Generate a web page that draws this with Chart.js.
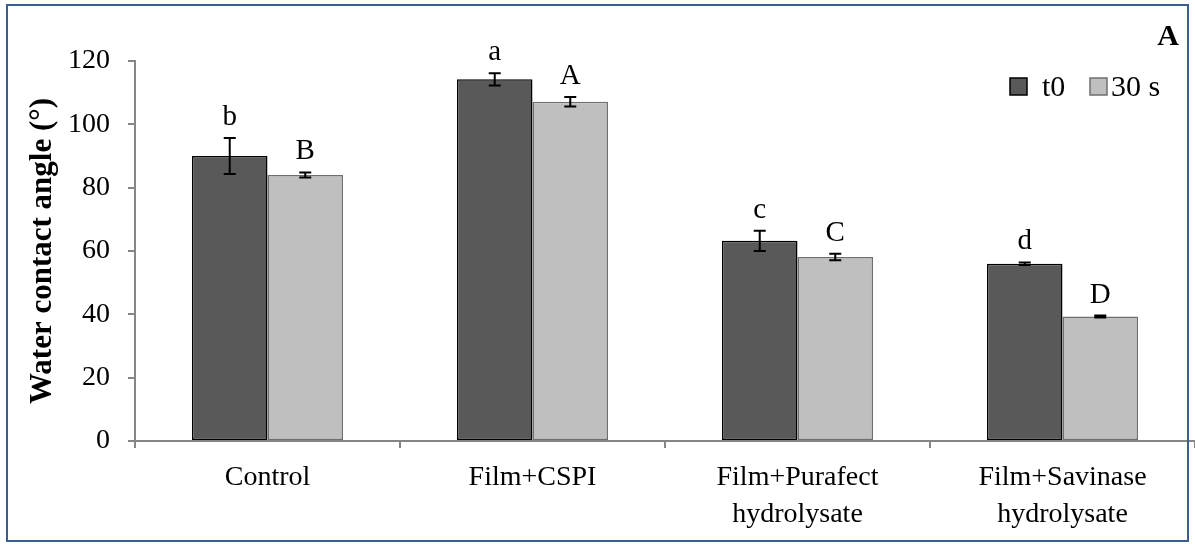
<!DOCTYPE html>
<html><head><meta charset="utf-8">
<script src="https://cdn.jsdelivr.net/npm/chart.js@4.4.0/dist/chart.umd.min.js"></script>
<style>
html,body{margin:0;padding:0;background:#fff;}
#wrap{position:relative;width:1195px;height:547px;overflow:hidden;}
canvas{position:absolute;left:0;top:0;}
#frame{position:absolute;left:6px;top:4px;width:1183px;height:538px;border:2px solid #3b5e8c;box-sizing:border-box;pointer-events:none;}
</style></head><body>
<div id="wrap"><canvas id="c" width="1195" height="547"></canvas><div id="frame"></div></div>
<script>
const categories = ['Control', 'Film+CSPI', ['Film+Purafect', 'hydrolysate'], ['Film+Savinase', 'hydrolysate']];
const seriesNames = ['t0', '30 s'];
const t0Values = [90.0, 114.2, 63.2, 56.0];
const t0Errors = [5.7, 1.9, 3.2, 0.4];
const s30Values = [84.0, 107.1, 58.1, 39.3];
const s30Errors = [0.8, 1.5, 1.0, 0.3];
const t0Letters = ['b', 'a', 'c', 'd'];
const s30Letters = ['B', 'A', 'C', 'D'];
const yMin = 0, yMax = 120, yStep = 20;
const panelLabel = 'A';
const yTitle = 'Water contact angle (°)';

const SERIF = "'Liberation Serif', 'Times New Roman', serif";
const darkFill = '#595959', lightFill = '#bfbfbf';

const errorBarPlugin = {
  id: 'errorBars',
  afterDatasetsDraw(chart) {
    const ctx = chart.ctx;
    const yS = chart.scales.y;
    chart.data.datasets.forEach((ds, di) => {
      const meta = chart.getDatasetMeta(di);
      meta.data.forEach((bar, i) => {
        const v = ds.data[i], e = ds.errors[i];
        const yt = yS.getPixelForValue(v + e), yb = yS.getPixelForValue(v - e);
        ctx.save();
        ctx.strokeStyle = '#000';
        ctx.lineWidth = 2;
        ctx.beginPath();
        ctx.moveTo(bar.x, yt); ctx.lineTo(bar.x, yb);
        ctx.moveTo(bar.x - 6, yt); ctx.lineTo(bar.x + 6, yt);
        ctx.moveTo(bar.x - 6, yb); ctx.lineTo(bar.x + 6, yb);
        ctx.stroke();
        ctx.fillStyle = '#000';
        ctx.font = '29px ' + SERIF;
        ctx.textAlign = 'center';
        ctx.textBaseline = 'alphabetic';
        ctx.fillText(ds.letters[i], bar.x, yt - 13);
        ctx.restore();
      });
    });
  }
};

const legendPlugin = {
  id: 'customLegend',
  afterDraw(chart) {
    const ctx = chart.ctx;
    ctx.save();
    const ds = chart.data.datasets;
    const boxes = [1010, 1090];
    const texts = [1042, 1111];
    ds.forEach((d, i) => {
      ctx.fillStyle = d.backgroundColor;
      ctx.fillRect(boxes[i], 78, 17, 17);
      ctx.strokeStyle = d.borderColor;
      ctx.lineWidth = 1.5;
      ctx.strokeRect(boxes[i], 78, 17, 17);
      ctx.fillStyle = '#000';
      ctx.font = '30px ' + SERIF;
      ctx.textBaseline = 'alphabetic';
      ctx.textAlign = 'left';
      ctx.fillText(d.label, texts[i], 96);
    });
    ctx.font = 'bold 30px ' + SERIF;
    ctx.textAlign = 'right';
    ctx.fillText(panelLabel, 1179, 45);
    ctx.restore();
  }
};

new Chart(document.getElementById('c'), {
  type: 'bar',
  data: {
    labels: categories,
    datasets: [
      { label: seriesNames[0], data: t0Values, errors: t0Errors, letters: t0Letters,
        backgroundColor: darkFill, borderColor: '#000', borderWidth: 1.5, borderSkipped: false,
        categoryPercentage: 0.57, barPercentage: 1.0 },
      { label: seriesNames[1], data: s30Values, errors: s30Errors, letters: s30Letters,
        backgroundColor: lightFill, borderColor: '#6f6f6f', borderWidth: 1.5, borderSkipped: false,
        categoryPercentage: 0.57, barPercentage: 1.0 }
    ]
  },
  options: {
    responsive: false,
    animation: false,
    layout: { padding: { top: 61, right: 0, left: 0, bottom: 0 } },
    plugins: { legend: { display: false }, tooltip: { enabled: false } },
    scales: {
      x: {
        grid: { display: true, offset: true, drawOnChartArea: false, drawTicks: true, tickLength: 7, color: '#868686', lineWidth: 2 },
        border: { color: '#868686', width: 2 },
        ticks: { color: '#000', font: { family: SERIF, size: 28, lineHeight: 1.33 }, padding: 11, maxRotation: 0, autoSkip: false },
        afterFit: s => { s.height = 106; }
      },
      y: {
        min: yMin, max: yMax,
        ticks: { stepSize: yStep, color: '#000', font: { family: SERIF, size: 28 }, padding: 18 },
        grid: { display: true, drawOnChartArea: false, drawTicks: true, tickLength: 7, color: '#868686', lineWidth: 2 },
        border: { color: '#868686', width: 2 },
        title: { display: true, text: yTitle, color: '#000', font: { family: SERIF, size: 31, weight: 'bold' }, padding: { top: 24, bottom: 0 } },
        afterFit: s => { s.width = 135; }
      }
    }
  },
  plugins: [errorBarPlugin, legendPlugin]
});
</script>
</body></html>
